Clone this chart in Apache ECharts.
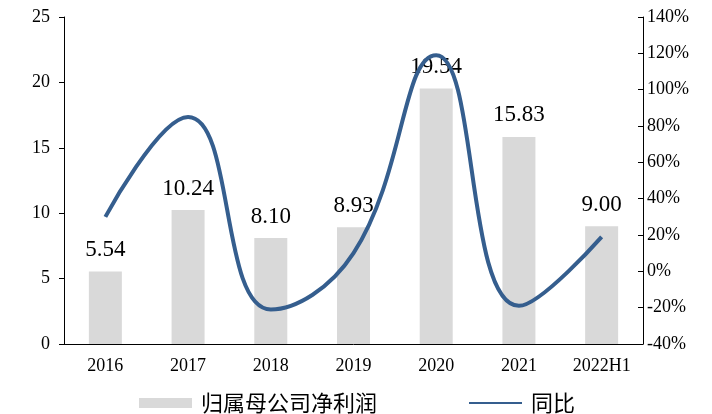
<!DOCTYPE html>
<html>
<head>
<meta charset="utf-8">
<script src="https://cdn.jsdelivr.net/npm/echarts@6/dist/echarts.min.js"></script>
<style>html,body{margin:0;padding:0;background:#fff}#c{width:712px;height:414px}</style>
</head>
<body>
<div id="c"></div>
<script>
var categories = ['2016','2017','2018','2019','2020','2021','2022H1'];
var netProfit = [5.54, 10.24, 8.10, 8.93, 19.54, 15.83, 9.00];
var yoy = [30, 85, -21, 10, 119, -19, 19];
var leftTicks = {min: 0, max: 25, interval: 5};
var rightTicks = {min: -40, max: 140, interval: 20};

var serif = "'Liberation Serif','Times New Roman',serif";
var chart = echarts.init(document.getElementById('c'));
chart.setOption({
  animation: false,
  grid: {left: 64, right: 69, top: 17, bottom: 70},
  legend: {
    top: 387, left: 134,
    itemGap: 91,
    itemWidth: 53, itemHeight: 10,
    textStyle: {fontFamily: "'Noto Sans CJK SC'", fontSize: 22, color: '#000', lineHeight: 22, padding: [0, 0, 0, 4]},
    data: [{name: '归属母公司净利润', icon: 'rect'}, {name: '同比', itemStyle: {opacity: 0}}]
  },
  xAxis: {
    type: 'category', data: categories,
    axisLine: {lineStyle: {color: '#000', width: 1}},
    axisTick: {alignWithLabel: true, length: 5, lineStyle: {color: '#000'}},
    axisLabel: {color: '#000', fontFamily: serif, fontSize: 18, margin: 13}
  },
  yAxis: [{
    type: 'value', min: leftTicks.min, max: leftTicks.max, interval: leftTicks.interval,
    splitLine: {show: false},
    axisLine: {show: true, lineStyle: {color: '#000'}},
    axisTick: {show: true, length: 5, lineStyle: {color: '#000'}},
    axisLabel: {color: '#000', fontFamily: serif, fontSize: 18, margin: 14}
  }, {
    type: 'value', min: rightTicks.min, max: rightTicks.max, interval: rightTicks.interval,
    position: 'right',
    splitLine: {show: false},
    axisLine: {show: true, lineStyle: {color: '#000'}},
    axisTick: {show: true, inside: true, length: 5, lineStyle: {color: '#000'}},
    axisLabel: {color: '#000', fontFamily: serif, fontSize: 18, margin: 4, formatter: '{value}%'}
  }],
  series: [{
    name: '归属母公司净利润', type: 'bar', data: netProfit, barWidth: 33,
    itemStyle: {color: '#D9D9D9'},
    label: {show: true, position: 'top', distance: 10, color: '#000', fontFamily: serif, fontSize: 23,
      formatter: function(p){return p.value.toFixed(2);}}
  }, {
    name: '同比', type: 'line', yAxisIndex: 1, data: yoy, smooth: 0.45,
    symbol: 'none', showSymbol: false,
    lineStyle: {color: '#355E8E', width: 4},
    itemStyle: {color: '#355E8E'},
    z: 3
  }]
});
</script>
</body>
</html>
